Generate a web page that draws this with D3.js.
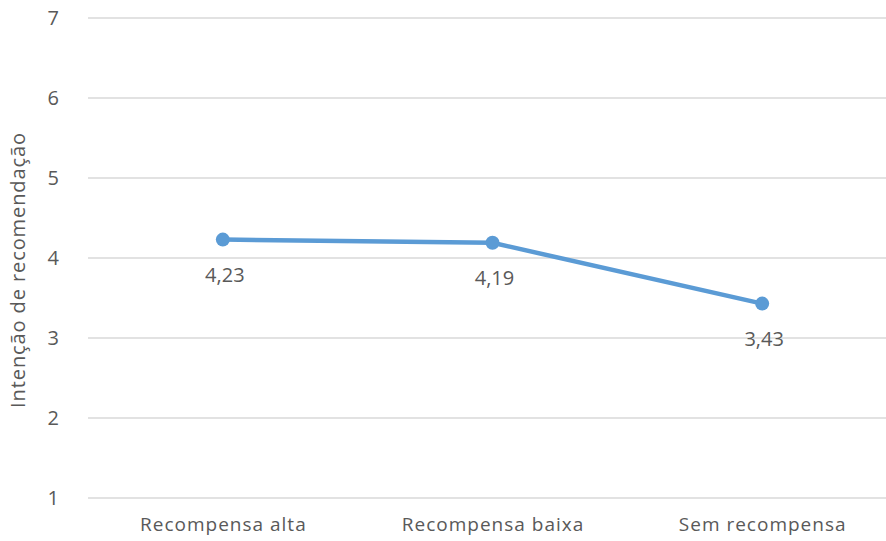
<!DOCTYPE html>
<html>
<head>
<meta charset="utf-8">
<script src="https://cdnjs.cloudflare.com/ajax/libs/d3/7.8.5/d3.min.js"></script>
<style>
  html, body { margin: 0; padding: 0; background: #fff; }
  svg text { font-family: "Open Sans", "Liberation Sans", sans-serif; fill: #595959; }
</style>
</head>
<body>
<svg id="chart" width="886" height="541"></svg>
<script>
// Recommendation intention by reward condition
const categories = ["Recompensa alta", "Recompensa baixa", "Sem recompensa"];
const values = [4.23, 4.19, 3.43];
const yTicks = [1, 2, 3, 4, 5, 6, 7];
const yTitle = "Intenção de recomendação";

const svg = d3.select("#chart");
const plotLeft = 88, plotRight = 897, plotTop = 18, plotBottom = 498;

const x = d3.scalePoint().domain(categories).range([plotLeft, plotRight]).padding(0.5);
const y = d3.scaleLinear().domain([1, 7]).range([plotBottom, plotTop]);

// horizontal gridlines
svg.append("g").selectAll("line").data(yTicks).join("line")
  .attr("x1", plotLeft).attr("x2", 886)
  .attr("y1", d => y(d)).attr("y2", d => y(d))
  .attr("stroke", "#d9d9d9").attr("stroke-width", 1.3);

// y axis tick labels
const yAxis = svg.append("g").attr("transform", `translate(${plotLeft},0)`)
  .call(d3.axisLeft(y).tickValues(yTicks).tickFormat(d3.format("d")).tickSize(0).tickPadding(29));
yAxis.select(".domain").remove();
yAxis.selectAll("text").attr("font-size", 20).style("fill", "#595959")
  .style("font-family", '"Open Sans", sans-serif');

// x axis category labels
const xAxis = svg.append("g").attr("transform", `translate(0,${plotBottom})`)
  .call(d3.axisBottom(x).tickSize(0).tickPadding(20));
xAxis.select(".domain").remove();
xAxis.selectAll("text").attr("font-size", 19).style("fill", "#595959")
  .style("font-family", '"Open Sans", sans-serif').attr("letter-spacing", 1);

// y axis title
svg.append("text")
  .attr("transform", `translate(25,${(plotTop + plotBottom) / 2 + 12}) rotate(-90)`)
  .attr("text-anchor", "middle").attr("font-size", 20).attr("letter-spacing", 0.9)
  .text(yTitle);

// line and markers
const line = d3.line().x((d, i) => x(categories[i])).y(d => y(d));
svg.append("path").datum(values)
  .attr("d", line).attr("fill", "none")
  .attr("stroke", "#5b9bd5").attr("stroke-width", 4.5).attr("stroke-linejoin", "round");

svg.append("g").selectAll("circle").data(values).join("circle")
  .attr("cx", (d, i) => x(categories[i])).attr("cy", d => y(d))
  .attr("r", 7).attr("fill", "#5b9bd5");

// data labels below each point
const fmt = v => d3.format(".2f")(v).replace(".", ",");
svg.append("g").selectAll("text").data(values).join("text")
  .attr("x", (d, i) => x(categories[i]) + 2).attr("y", d => y(d) + 42)
  .attr("text-anchor", "middle").attr("font-size", 20)
  .text(fmt);
</script>
</body>
</html>
